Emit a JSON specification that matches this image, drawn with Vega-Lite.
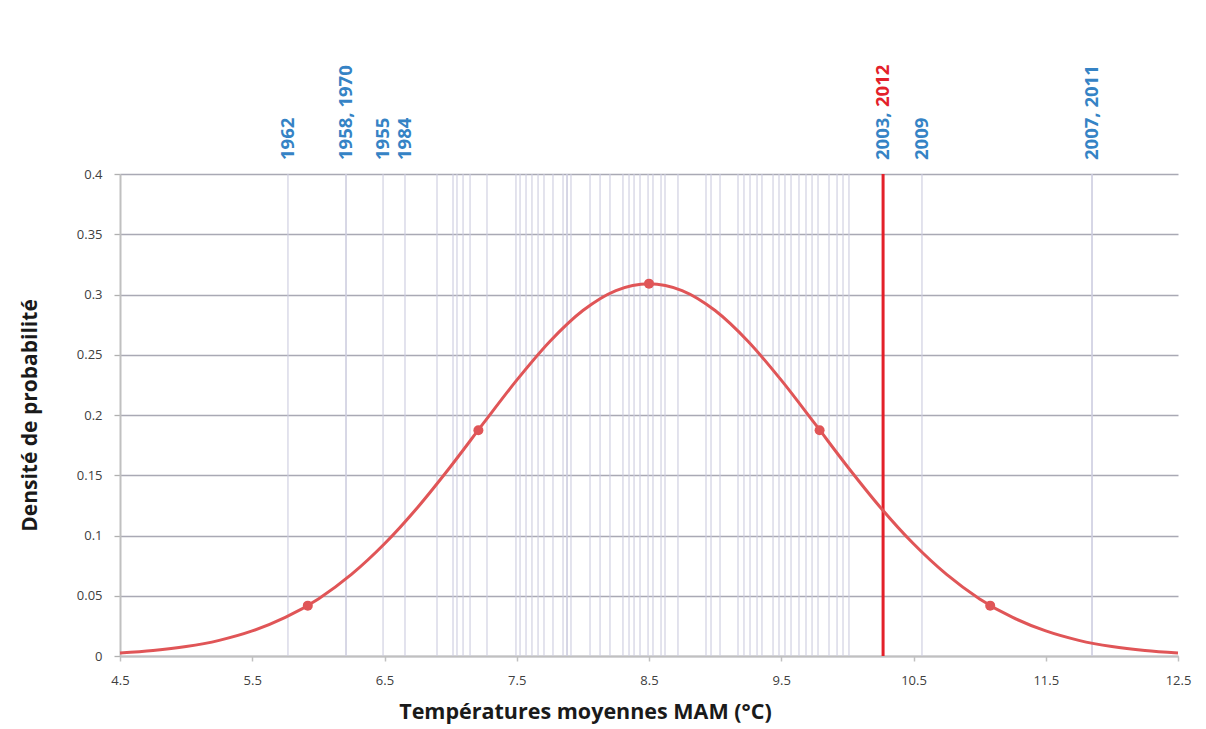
{
  "$schema": "https://vega.github.io/schema/vega-lite/v6.json",
  "width": 1058,
  "height": 482,
  "autosize": "none",
  "padding": {"left": 120, "top": 174, "right": 28, "bottom": 73},
  "background": "white",
  "config": {
    "view": {"stroke": null},
    "font": "Open Sans"
  },
  "datasets": {
    "years": [
      {"t": 5.770}, {"t": 6.209}, {"t": 6.209}, {"t": 6.489}, {"t": 6.655},
      {"t": 6.897}, {"t": 7.018}, {"t": 7.048}, {"t": 7.094}, {"t": 7.147}, {"t": 7.275},
      {"t": 7.494}, {"t": 7.525}, {"t": 7.570}, {"t": 7.615}, {"t": 7.661}, {"t": 7.706}, {"t": 7.774},
      {"t": 7.850}, {"t": 7.880}, {"t": 7.880}, {"t": 7.910}, {"t": 8.054}, {"t": 8.130}, {"t": 8.205},
      {"t": 8.303}, {"t": 8.349}, {"t": 8.387}, {"t": 8.432}, {"t": 8.493}, {"t": 8.530}, {"t": 8.591}, {"t": 8.621}, {"t": 8.719},
      {"t": 8.931}, {"t": 8.969}, {"t": 9.037},
      {"t": 9.173}, {"t": 9.218}, {"t": 9.264}, {"t": 9.317}, {"t": 9.354}, {"t": 9.438}, {"t": 9.483}, {"t": 9.528},
      {"t": 9.574}, {"t": 9.634}, {"t": 9.687}, {"t": 9.733}, {"t": 9.778}, {"t": 9.861}, {"t": 9.922}, {"t": 9.967}, {"t": 10.012},
      {"t": 10.27}, {"t": 10.564}, {"t": 11.85}, {"t": 11.85}
    ],
    "red": [{"t": 10.27}],
    "curve": [
      {"x": 4.5, "y": 0.0025}, {"x": 4.75, "y": 0.0045}, {"x": 5.0, "y": 0.0078}, {"x": 5.25, "y": 0.0130},
      {"x": 5.5, "y": 0.0208}, {"x": 5.75, "y": 0.0320}, {"x": 6.0, "y": 0.0474}, {"x": 6.25, "y": 0.0677},
      {"x": 6.5, "y": 0.0931}, {"x": 6.75, "y": 0.1233}, {"x": 7.0, "y": 0.1573}, {"x": 7.25, "y": 0.1934},
      {"x": 7.5, "y": 0.2289}, {"x": 7.75, "y": 0.2610}, {"x": 8.0, "y": 0.2867}, {"x": 8.25, "y": 0.3033},
      {"x": 8.5, "y": 0.3090}, {"x": 8.75, "y": 0.3033}, {"x": 9.0, "y": 0.2867}, {"x": 9.25, "y": 0.2610},
      {"x": 9.5, "y": 0.2289}, {"x": 9.75, "y": 0.1934}, {"x": 10.0, "y": 0.1573}, {"x": 10.25, "y": 0.1233},
      {"x": 10.5, "y": 0.0931}, {"x": 10.75, "y": 0.0677}, {"x": 11.0, "y": 0.0474}, {"x": 11.25, "y": 0.0320},
      {"x": 11.5, "y": 0.0208}, {"x": 11.75, "y": 0.0130}, {"x": 12.0, "y": 0.0078}, {"x": 12.25, "y": 0.0045},
      {"x": 12.5, "y": 0.0025}
    ],
    "pts": [
      {"x": 5.92, "y": 0.0418}, {"x": 7.21, "y": 0.1874}, {"x": 8.5, "y": 0.309},
      {"x": 9.79, "y": 0.1874}, {"x": 11.08, "y": 0.0418}
    ],
    "labels": [
      {"t": 5.77, "label": "1962"}, {"t": 6.209, "label": "1958, 1970"}, {"t": 6.489, "label": "1955"},
      {"t": 6.655, "label": "1984"}, {"t": 10.27, "label": "2003,"}, {"t": 10.564, "label": "2009"},
      {"t": 11.85, "label": "2007, 2011"}
    ],
    "label2012": [{"t": 10.27, "label": "2012"}]
  },
  "layer": [
    {
      "data": {"name": "years"},
      "mark": {"type": "rule", "color": "#cdcde0", "strokeWidth": 1.6, "opacity": 0.7},
      "encoding": {
        "x": {
          "field": "t", "type": "quantitative",
          "scale": {"domain": [4.5, 12.5], "nice": false, "zero": false},
          "axis": {
            "values": [4.5, 5.5, 6.5, 7.5, 8.5, 9.5, 10.5, 11.5, 12.5],
            "format": ".1f",
            "grid": false,
            "labelFlush": false, "labelOverlap": false,
            "domainColor": "#c0c0c0", "domainWidth": 2,
            "tickColor": "#c0c0c0", "tickSize": 5, "tickWidth": 1.5,
            "labelFont": "Open Sans", "labelFontSize": 13, "labelColor": "#404040", "labelPadding": 13,
            "title": "Températures moyennes MAM (°C)",
            "titleFont": "Open Sans", "titleFontSize": 21.5, "titleFontWeight": "bold", "titleColor": "#1a1a1a",
            "titleX": 465, "titleY": 45, "titleBaseline": "top"
          }
        }
      }
    },
    {
      "data": {"name": "red"},
      "mark": {"type": "rule", "color": "#e3202a", "strokeWidth": 3},
      "encoding": {"x": {"field": "t", "type": "quantitative"}}
    },
    {
      "data": {"name": "curve"},
      "mark": {"type": "line", "color": "#e05557", "strokeWidth": 3, "interpolate": "monotone"},
      "encoding": {
        "x": {"field": "x", "type": "quantitative"},
        "y": {
          "field": "y", "type": "quantitative",
          "scale": {"domain": [0, 0.4], "nice": false},
          "axis": {
            "values": [0, 0.05, 0.1, 0.15, 0.2, 0.25, 0.3, 0.35, 0.4],
            "format": "~g",
            "grid": true, "gridColor": "#a9a9b4", "gridWidth": 1.3,
            "domainColor": "#c0c0c0", "domainWidth": 2,
            "tickColor": "#b0b0b0", "tickSize": 6, "tickWidth": 1.3,
            "labelFont": "Open Sans", "labelFontSize": 13, "labelColor": "#404040", "labelPadding": 12,
            "title": "Densité de probabilité",
            "titleFont": "Open Sans", "titleFontSize": 21, "titleFontWeight": "bold", "titleColor": "#1a1a1a",
            "titleX": -80
          }
        }
      }
    },
    {
      "data": {"name": "pts"},
      "mark": {"type": "circle", "color": "#e05557", "size": 100, "opacity": 1},
      "encoding": {
        "x": {"field": "x", "type": "quantitative"},
        "y": {"field": "y", "type": "quantitative"}
      }
    },
    {
      "data": {"name": "labels"},
      "mark": {"type": "text", "angle": 270, "align": "left", "baseline": "middle", "dx": 14,
               "font": "Open Sans", "fontSize": 18.5, "fontWeight": "bold", "color": "#3583c5", "clip": false},
      "encoding": {
        "x": {"field": "t", "type": "quantitative"},
        "y": {"datum": 0.4},
        "text": {"field": "label"}
      }
    },
    {
      "data": {"name": "label2012"},
      "mark": {"type": "text", "angle": 270, "align": "left", "baseline": "middle", "dx": 67,
               "font": "Open Sans", "fontSize": 18.5, "fontWeight": "bold", "color": "#e3202a", "clip": false},
      "encoding": {
        "x": {"field": "t", "type": "quantitative"},
        "y": {"datum": 0.4},
        "text": {"field": "label"}
      }
    }
  ]
}
